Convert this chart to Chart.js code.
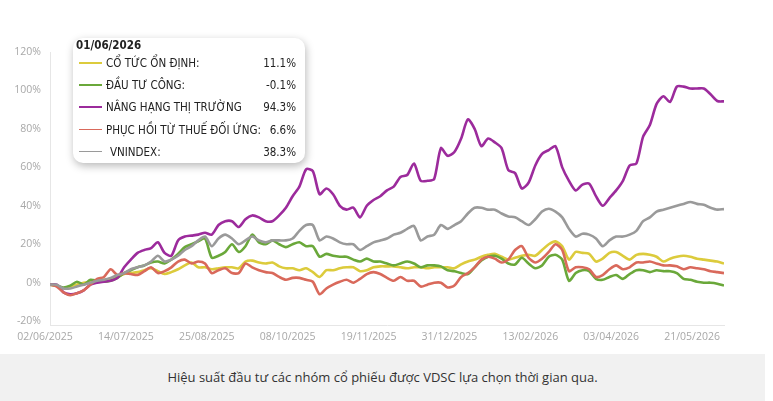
<!DOCTYPE html>
<html lang="vi">
<head>
<meta charset="UTF-8" />
<title>Hiệu suất đầu tư các nhóm cổ phiếu</title>
<script src="https://cdn.jsdelivr.net/npm/chart.js"></script>
<style>
  html, body { margin: 0; padding: 0; background: #fff; }
  body { width: 773px; height: 401px; position: relative; overflow: hidden; font-family: 'Open Sans', sans-serif; }
  #wrap { position: absolute; left: 0; top: 0; width: 773px; height: 354px; }
  #legendBox {
    position: absolute; left: 73px; top: 38px; width: 232px; height: 125px;
    background: #fff; border-radius: 10px; box-shadow: 1px 3px 8px rgba(0,0,0,0.28);
    font-family: 'DejaVu Sans', sans-serif; font-stretch: condensed; color: #222; font-size: 11.5px;
  }
  #legendBox .title { position: absolute; left: 3px; top: 0px; font-weight: bold; font-size: 11.5px; }
  #legendBox .row { position: absolute; left: 6px; width: 217px; height: 16px; line-height: 16px; }
  #legendBox .sw { position: absolute; left: 0; top: 7px; width: 23px; height: 1.6px; }
  #legendBox .lb { position: absolute; left: 27px; top: 0; }
  #legendBox .val { position: absolute; right: 0; top: 0; }
  #caption {
    position: absolute; left: 0; top: 354px; width: 765px; height: 47px; background: #f1f1f1;
    text-align: center; line-height: 47px; font-size: 13px; color: #333;
  }
</style>
</head>
<body>
<div id="wrap"><canvas id="perfChart" width="773" height="354"></canvas></div>
<div id="legendBox"></div>
<div id="caption">Hiệu suất đầu tư các nhóm cổ phiếu được VDSC lựa chọn thời gian qua.</div>

<script>
  // trading-day ticks, one every 30 sessions
  const tickLabels = ['02/06/2025', '14/07/2025', '25/08/2025', '08/10/2025', '19/11/2025',
                      '31/12/2025', '13/02/2026', '03/04/2026', '21/05/2026'];
  const yTicks = [-20, 0, 20, 40, 60, 80, 100, 120];
  const STEP = 2.5; // sessions between sampled points

  const seriesNames = ['CỔ TỨC ỔN ĐỊNH:', 'ĐẦU TƯ CÔNG:', 'NÂNG HẠNG THỊ TRƯỜNG', 'PHỤC HỒI TỪ THUẾ ĐỐI ỨNG:', 'VNINDEX:'];
  const lastValues = ['11.1%', '-0.1%', '94.3%', '6.6%', '38.3%'];
  const colors = ['#dccb3c', '#6aa83a', '#9c2b9c', '#d9695b', '#9a9a9a'];

  const coTuc = [-1,-1.5,-3,-2,-1,0,0.5,1,1.5,2, 3,4.5,5,5.5,6.5,7.5,6,4.5,5.5,7,
    9,10.5,8,8,7,7.5,8,8,7.5,11, 11.5,10.5,10,10.5,8.5,7.5,7.5,6.5,7.5,5.5,
    3,6.5,6.5,7.5,8,8,6,6.5,8,8.5, 8.5,8.5,8,7.5,8,8,7.5,8,8,8,
    7.5,9.5,11,12,13.5,14.5,15,13.5,12,13, 14,14.5,14,17,20,21.5,19,12,16,15.5,
    15,11,12.5,15.5,16,14,12,14.5,15,14.5, 13.5,11,12.5,13.5,14,13.5,12.5,12,11.5,11, 10];

  const dauTuCong = [-1,-1.5,-2.5,-1.5,0.5,-1,1.5,1,0.5,1, 2.5,5,6.5,8,9,10.5,11,10,12,15,
    18.5,20,21.5,23,13,14,16,20,16,19, 25,21,20,22,20,18.5,20,21,19,19,
    13.5,15,14,13.5,13.5,12,11,12.5,11,11, 10,9,10,11,10,8,9,9,8.5,6.5,
    6,5,4.5,8,11.5,13.5,14,12.5,10,9.5, 13,10,7.5,9,13.5,14.5,12,1,5,6.5,
    6,2,1.5,3,4,2,4.5,6.5,6.5,5.5, 6.5,6,6,5,2,1.5,0.5,0,0,-0.5, -1.5];

  const nangHang = [-1,-1,-5,-6,-5.5,-4,-1,0,0.5,1, 2.5,8,12,15.5,17,18,21,15.5,14,22,
    24,24.5,25,26,25,30,32,32,29,33, 35,34,32,32,35,39,45,50,59,58,
    46,49,46,40,38,39,34,40,43,45, 48,50,55,56,62,53,53,54,70,66,
    68,75,85,80,71,75,73,70,58.5,57, 49,52,61,67,69,71,60,53,48,51,
    51.5,45,40,44,48,53,61,62,76,82, 93,97,94,102,102,101,101,101,98,94.5, 94.3];

  const phucHoi = [-1,-2,-5,-6.5,-5.5,-4,-1,2,3,7, 4,5,4.5,4,6,8,5,6,8,11,
    12,10,11,10,5,6.5,7.5,5,5,10, 8,6.5,5.5,5,3,1.5,2.5,2.5,1.5,0.5,
    -6,-3,-1,0.5,1.5,0,2,4.5,5.5,4.5, 2.5,1,3,1,1,-2,-1,0,0,-2.5,
    -1.5,3,5,8,12,13.5,12.5,10.5,12,17, 19,13,10.5,12.5,16,20,17,6,8,8,
    7,3,4,7,9,7,8,10.5,10.5,11, 10,9,9,8.5,7,8,7.5,7,6,5.5, 5];

  const vnindex = [-1,-1,-3,-3,-2,-1,0,1,1.5,2.5, 4,5,7,8,9,11,14,11,12,14,
    17,19,22,24,19,23,25,23,20,22, 24,22,21,22,22,22,23,27,30,30,
    22,24,23,21,20,20,17,19,21,22, 23,25,26,28,29.5,22,24,25,30,28,
    30,32,36,39,39,38,38,36,34.5,34, 32,30,33,37,38.5,37,34,28,24,25.5,
    25,23,19,22,24,24,25,27,32,34, 37,38,39,40,41,42,41,40.5,39,38, 38.3];

  const allSeries = [coTuc, dauTuCong, nangHang, phucHoi, vnindex];

  // legend box
  const box = document.getElementById('legendBox');
  box.innerHTML = '<div class="title">01/06/2026</div>' + seriesNames.map((n, k) =>
    '<div class="row" style="top:' + (17 + k * 22.2) + 'px">' +
    '<div class="sw" style="background:' + colors[k] + '"></div>' +
    '<div class="lb"' + (k === 4 ? ' style="left:31px"' : '') + '>' + n + '</div>' +
    '<div class="val">' + lastValues[k] + '</div></div>').join('');

  const tickFont = { family: 'Open Sans', size: 10.5 };

  new Chart(document.getElementById('perfChart').getContext('2d'), {
    type: 'line',
    data: {
      datasets: allSeries.map((s, k) => ({
        label: seriesNames[k],
        data: s.map((v, i) => ({ x: i * STEP, y: v })),
        borderColor: colors[k],
        borderWidth: 2.6,
        pointRadius: 0,
        tension: 0.25,
        fill: false
      })).reverse()
    },
    options: {
      responsive: false,
      animation: false,
      layout: { padding: { top: 52, right: 49, left: 0, bottom: 0 } },
      plugins: { legend: { display: false }, tooltip: { enabled: false } },
      scales: {
        x: {
          type: 'linear', min: 0, max: 250,
          afterBuildTicks: s => { s.ticks = tickLabels.map((_, k) => ({ value: k * 30 })); },
          afterFit: s => { s.height = 29; },
          grid: { drawOnChartArea: false, drawTicks: false },
          border: { color: '#e6e6e6' },
          ticks: { callback: (v, i) => tickLabels[i], autoSkip: false, maxRotation: 0, labelOffset: -5,
                   padding: 6, color: '#a8a8a8', font: tickFont }
        },
        y: {
          min: -22, max: 120,
          afterBuildTicks: s => { s.ticks = yTicks.map(v => ({ value: v })); },
          afterFit: s => { s.width = 50; },
          grid: { drawOnChartArea: false, drawTicks: false },
          border: { color: '#e6e6e6' },
          ticks: { callback: v => v + '%', padding: 9, color: '#a8a8a8', font: tickFont }
        }
      }
    }
  });
</script>
</body>
</html>
